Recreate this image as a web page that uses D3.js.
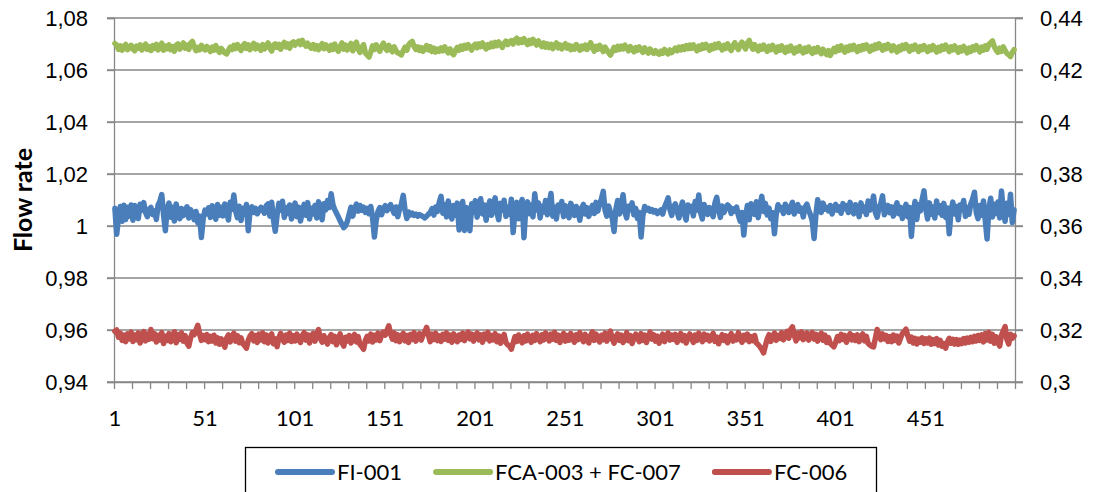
<!DOCTYPE html>
<html>
<head>
  <meta charset="utf-8">
  <title>Flow rate</title>
  <script src="https://d3js.org/d3.v7.min.js"></script>
  <style>
    body { margin: 0; background: #fff; }
    svg { display: block; font-family: Lato, "Open Sans", sans-serif; }
    .grid line { stroke: #878787; stroke-width: 1.3px; }
    .tick text { fill: #000; }
  </style>
</head>
<body>
  <div id="chart"></div>

  <script>
    // series names and colours
    var seriesNames = ["FI-001", "FCA-003 + FC-007", "FC-006"];
    var seriesColors = ["#4a7ebb", "#9bbb59", "#c0504d"];

    // tick labels
    var leftTicks = [0.94, 0.96, 0.98, 1, 1.02, 1.04, 1.06, 1.08];
    var rightTicks = [0.3, 0.32, 0.34, 0.36, 0.38, 0.4, 0.42, 0.44];
    var xLabels = [1, 51, 101, 151, 201, 251, 301, 351, 401, 451];

    // FI-001 (left axis), one value per sample 1..500
    var fi001 = [
      1.0068,0.9968,1.0032,1.0075,1.0018,1.0080,1.0025,1.0072,1.0038,1.0081,
      1.0022,1.0079,1.0048,1.0029,1.0084,1.0061,1.0090,1.0052,1.0036,1.0064,
      1.0071,1.0044,1.0058,1.0025,1.0082,1.0095,1.0121,1.0043,0.9982,1.0066,
      1.0088,1.0034,1.0072,1.0019,1.0085,1.0051,1.0028,1.0067,1.0040,1.0059,
      1.0074,1.0031,1.0063,1.0047,1.0024,1.0056,1.0012,1.0038,0.9956,1.0029,
      1.0061,1.0047,1.0070,1.0033,1.0078,1.0052,1.0026,1.0083,1.0041,1.0072,
      1.0039,1.0085,1.0054,1.0023,1.0091,1.0064,1.0119,1.0058,1.0032,1.0076,
      1.0021,1.0068,1.0045,1.0083,0.9982,1.0061,1.0074,1.0052,1.0068,1.0047,
      1.0059,1.0072,1.0064,1.0049,1.0078,1.0085,1.0038,1.0091,1.0024,0.9980,
      1.0042,1.0087,1.0061,1.0095,1.0033,1.0070,1.0048,1.0081,1.0027,1.0064,
      1.0088,1.0036,1.0072,1.0019,1.0055,1.0083,1.0041,1.0090,1.0027,1.0068,
      1.0046,1.0079,1.0031,1.0093,1.0058,1.0024,1.0086,1.0062,1.0098,1.0071,
      1.0124,1.0082,1.0063,1.0049,1.0035,1.0020,1.0006,0.9994,1.0001,1.0018,
      1.0045,1.0072,1.0038,1.0066,1.0084,1.0057,1.0079,1.0061,1.0073,1.0052,
      1.0068,1.0047,1.0075,1.0032,0.9958,1.0021,1.0056,1.0071,1.0043,1.0066,
      1.0078,1.0059,1.0071,1.0082,1.0064,1.0048,1.0073,1.0036,1.0067,1.0085,
      1.0118,1.0062,1.0029,1.0054,1.0043,1.0049,1.0041,1.0046,1.0038,1.0044,
      1.0040,1.0036,1.0031,1.0038,1.0045,1.0052,1.0067,1.0042,1.0073,1.0056,
      1.0091,1.0114,1.0049,1.0082,1.0035,1.0096,1.0058,1.0027,1.0079,1.0041,
      1.0088,0.9985,1.0062,1.0094,0.9983,1.0071,1.0039,0.9982,1.0086,1.0052,
      1.0097,1.0034,1.0077,1.0105,1.0046,1.0081,1.0022,1.0068,1.0096,1.0041,
      1.0079,1.0108,1.0052,1.0024,1.0087,1.0061,1.0099,1.0037,1.0072,1.0045,
      1.0103,0.9975,1.0058,1.0091,1.0028,1.0074,1.0102,0.9955,1.0066,1.0093,
      1.0047,1.0081,1.0035,1.0124,1.0062,1.0089,1.0031,1.0076,1.0054,1.0098,
      1.0043,1.0085,1.0125,1.0038,1.0072,1.0027,1.0081,1.0059,1.0094,1.0036,
      1.0078,1.0051,1.0032,1.0087,1.0064,1.0041,1.0075,1.0058,1.0022,1.0069,
      1.0083,1.0046,1.0071,1.0037,1.0062,1.0079,1.0048,1.0091,1.0057,1.0084,
      1.0104,1.0133,1.0061,1.0038,1.0077,1.0052,1.0029,0.9979,1.0063,1.0098,
      1.0046,1.0081,1.0120,1.0054,1.0031,1.0076,1.0062,1.0089,1.0043,1.0068,
      1.0029,1.0052,0.9958,1.0041,1.0075,1.0061,1.0068,1.0057,1.0063,1.0054,
      1.0059,1.0048,1.0055,1.0062,1.0046,1.0073,1.0089,1.0108,1.0064,1.0041,
      1.0072,1.0085,1.0056,1.0031,1.0068,1.0092,1.0047,1.0023,1.0081,1.0058,
      1.0076,1.0039,1.0094,1.0061,1.0119,1.0052,1.0027,1.0083,1.0066,1.0045,
      1.0071,1.0058,1.0036,1.0089,1.0110,1.0064,1.0033,1.0077,1.0052,1.0069,
      1.0081,1.0074,1.0048,1.0066,1.0057,1.0073,1.0041,1.0019,1.0052,0.9965,
      1.0038,1.0079,1.0024,1.0086,1.0061,1.0045,1.0093,1.0032,1.0078,1.0114,
      1.0056,1.0087,1.0042,1.0069,1.0028,1.0051,0.9970,1.0045,1.0082,1.0063,
      1.0071,1.0048,1.0084,1.0067,1.0052,1.0075,1.0091,1.0046,1.0063,1.0082,
      1.0057,1.0069,1.0035,1.0072,1.0084,1.0061,1.0043,1.0019,0.9952,1.0041,
      1.0101,1.0076,1.0052,1.0088,1.0065,1.0071,1.0058,1.0079,1.0046,1.0068,
      1.0083,1.0061,1.0074,1.0049,1.0086,1.0067,1.0078,1.0052,1.0091,1.0063,
      1.0047,1.0082,1.0069,1.0036,1.0089,1.0058,1.0073,1.0044,1.0096,1.0061,
      1.0078,1.0115,1.0052,1.0034,1.0069,1.0087,1.0116,1.0043,1.0062,1.0079,
      1.0051,1.0074,1.0038,1.0066,1.0089,1.0047,1.0072,1.0029,1.0058,1.0083,
      1.0036,1.0071,0.9960,1.0047,1.0094,1.0025,1.0082,1.0058,1.0103,1.0135,
      1.0064,1.0027,1.0089,1.0045,1.0073,1.0031,1.0096,1.0052,1.0078,1.0041,
      1.0087,1.0033,1.0069,0.9970,1.0058,1.0092,1.0046,1.0075,1.0024,1.0081,
      1.0063,1.0098,1.0037,1.0071,1.0045,1.0086,1.0104,1.0130,1.0052,1.0028,
      1.0079,1.0041,1.0096,1.0022,0.9950,1.0068,1.0107,1.0035,1.0084,1.0048,
      1.0092,1.0031,1.0135,1.0059,1.0018,1.0087,1.0044,1.0122,1.0013,1.0062
    ];

    // FCA-003 + FC-007 (right axis)
    var fca003fc007 = [
      0.4302,0.4296,0.4279,0.4293,0.4276,0.4290,0.4298,0.4278,0.4288,0.4295,
      0.4280,0.4274,0.4292,0.4284,0.4297,0.4277,0.4286,0.4300,0.4279,0.4290,
      0.4275,0.4294,0.4283,0.4299,0.4277,0.4289,0.4303,0.4276,0.4292,0.4282,
      0.4297,0.4278,0.4290,0.4272,0.4295,0.4300,0.4280,0.4293,0.4304,0.4284,
      0.4296,0.4279,0.4303,0.4310,0.4290,0.4274,0.4287,0.4278,0.4295,0.4283,
      0.4277,0.4291,0.4282,0.4271,0.4288,0.4276,0.4294,0.4279,0.4268,0.4283,
      0.4274,0.4266,0.4262,0.4275,0.4288,0.4279,0.4295,0.4282,0.4298,0.4286,
      0.4275,0.4294,0.4301,0.4283,0.4297,0.4278,0.4290,0.4302,0.4281,0.4296,
      0.4285,0.4276,0.4298,0.4281,0.4293,0.4304,0.4284,0.4273,0.4296,0.4300,
      0.4287,0.4299,0.4280,0.4297,0.4306,0.4289,0.4300,0.4284,0.4303,0.4308,
      0.4296,0.4306,0.4311,0.4298,0.4314,0.4301,0.4292,0.4303,0.4290,0.4284,
      0.4298,0.4281,0.4294,0.4278,0.4292,0.4301,0.4282,0.4297,0.4286,0.4276,
      0.4295,0.4279,0.4300,0.4283,0.4272,0.4290,0.4304,0.4280,0.4296,0.4277,
      0.4289,0.4302,0.4274,0.4294,0.4307,0.4280,0.4268,0.4286,0.4298,0.4266,
      0.4258,0.4250,0.4270,0.4293,0.4279,0.4297,0.4283,0.4272,0.4291,0.4303,
      0.4285,0.4276,0.4295,0.4280,0.4270,0.4289,0.4274,0.4266,0.4263,0.4258,
      0.4274,0.4288,0.4276,0.4296,0.4305,0.4310,0.4291,0.4279,0.4289,0.4275,
      0.4286,0.4272,0.4283,0.4294,0.4277,0.4290,0.4271,0.4284,0.4269,0.4280,
      0.4272,0.4285,0.4274,0.4289,0.4276,0.4266,0.4281,0.4265,0.4259,0.4275,
      0.4287,0.4276,0.4292,0.4280,0.4295,0.4284,0.4298,0.4286,0.4277,0.4293,
      0.4299,0.4285,0.4301,0.4290,0.4304,0.4292,0.4281,0.4298,0.4288,0.4303,
      0.4291,0.4306,0.4294,0.4308,0.4297,0.4287,0.4303,0.4311,0.4298,0.4307,
      0.4313,0.4300,0.4316,0.4322,0.4304,0.4317,0.4306,0.4321,0.4309,0.4298,
      0.4314,0.4302,0.4318,0.4307,0.4296,0.4312,0.4300,0.4290,0.4304,0.4288,
      0.4300,0.4286,0.4299,0.4282,0.4294,0.4304,0.4285,0.4297,0.4281,0.4293,
      0.4301,0.4284,0.4295,0.4278,0.4291,0.4280,0.4298,0.4289,0.4276,0.4292,
      0.4282,0.4296,0.4279,0.4290,0.4305,0.4285,0.4273,0.4291,0.4280,0.4295,
      0.4284,0.4271,0.4288,0.4277,0.4266,0.4257,0.4272,0.4287,0.4276,0.4291,
      0.4279,0.4292,0.4281,0.4296,0.4285,0.4274,0.4290,0.4280,0.4270,0.4286,
      0.4276,0.4289,0.4278,0.4268,0.4285,0.4274,0.4265,0.4281,0.4271,0.4264,
      0.4274,0.4265,0.4261,0.4273,0.4264,0.4279,0.4268,0.4262,0.4277,0.4267,
      0.4275,0.4284,0.4274,0.4288,0.4277,0.4290,0.4279,0.4294,0.4282,0.4296,
      0.4283,0.4297,0.4285,0.4274,0.4292,0.4280,0.4297,0.4284,0.4299,0.4287,
      0.4276,0.4294,0.4282,0.4299,0.4286,0.4302,0.4289,0.4277,0.4295,0.4283,
      0.4301,0.4286,0.4275,0.4293,0.4305,0.4288,0.4279,0.4297,0.4307,0.4292,
      0.4281,0.4303,0.4314,0.4295,0.4280,0.4298,0.4285,0.4274,0.4292,0.4280,
      0.4296,0.4283,0.4272,0.4291,0.4278,0.4295,0.4282,0.4270,0.4289,0.4276,
      0.4293,0.4279,0.4268,0.4287,0.4274,0.4292,0.4278,0.4266,0.4284,0.4273,
      0.4290,0.4276,0.4266,0.4284,0.4272,0.4288,0.4275,0.4264,0.4282,0.4270,
      0.4286,0.4273,0.4263,0.4280,0.4268,0.4259,0.4275,0.4256,0.4269,0.4283,
      0.4271,0.4289,0.4276,0.4293,0.4280,0.4269,0.4288,0.4275,0.4292,0.4279,
      0.4295,0.4282,0.4271,0.4290,0.4277,0.4294,0.4281,0.4297,0.4285,0.4273,
      0.4291,0.4279,0.4297,0.4284,0.4301,0.4288,0.4276,0.4294,0.4282,0.4299,
      0.4287,0.4275,0.4293,0.4281,0.4270,0.4289,0.4277,0.4295,0.4283,0.4298,
      0.4285,0.4273,0.4291,0.4279,0.4296,0.4284,0.4272,0.4290,0.4278,0.4294,
      0.4282,0.4271,0.4289,0.4277,0.4294,0.4282,0.4269,0.4287,0.4275,0.4292,
      0.4280,0.4296,0.4284,0.4271,0.4289,0.4277,0.4293,0.4281,0.4268,0.4286,
      0.4274,0.4291,0.4279,0.4266,0.4284,0.4272,0.4289,0.4277,0.4294,0.4282,
      0.4270,0.4288,0.4276,0.4293,0.4280,0.4298,0.4305,0.4312,0.4290,0.4277,
      0.4268,0.4284,0.4272,0.4289,0.4275,0.4264,0.4259,0.4252,0.4267,0.4278
    ];

    // FC-006 (right axis)
    var fc006 = [
      0.3195,0.3200,0.3172,0.3188,0.3160,0.3180,0.3155,0.3185,0.3166,0.3192,
      0.3156,0.3181,0.3163,0.3189,0.3150,0.3177,0.3194,0.3158,0.3184,0.3165,
      0.3202,0.3166,0.3186,0.3154,0.3180,0.3162,0.3190,0.3148,0.3176,0.3160,
      0.3186,0.3155,0.3179,0.3193,0.3151,0.3183,0.3164,0.3189,0.3157,0.3178,
      0.3150,0.3138,0.3170,0.3190,0.3182,0.3200,0.3218,0.3185,0.3160,0.3179,
      0.3163,0.3182,0.3155,0.3176,0.3158,0.3180,0.3150,0.3170,0.3145,0.3166,
      0.3150,0.3134,0.3169,0.3181,0.3154,0.3175,0.3188,0.3157,0.3178,0.3151,
      0.3170,0.3147,0.3140,0.3130,0.3160,0.3177,0.3186,0.3158,0.3179,0.3152,
      0.3184,0.3162,0.3189,0.3155,0.3181,0.3150,0.3173,0.3185,0.3147,0.3166,
      0.3136,0.3170,0.3187,0.3164,0.3153,0.3181,0.3160,0.3188,0.3156,0.3178,
      0.3158,0.3184,0.3166,0.3152,0.3179,0.3190,0.3161,0.3181,0.3150,0.3175,
      0.3187,0.3157,0.3182,0.3202,0.3168,0.3153,0.3178,0.3160,0.3146,0.3171,
      0.3182,0.3155,0.3176,0.3143,0.3166,0.3185,0.3152,0.3138,0.3172,0.3158,
      0.3179,0.3150,0.3167,0.3183,0.3154,0.3175,0.3145,0.3136,0.3126,0.3160,
      0.3176,0.3158,0.3184,0.3154,0.3180,0.3162,0.3188,0.3159,0.3181,0.3192,
      0.3180,0.3198,0.3216,0.3184,0.3165,0.3189,0.3159,0.3181,0.3155,0.3177,
      0.3187,0.3158,0.3179,0.3152,0.3183,0.3164,0.3190,0.3157,0.3175,0.3186,
      0.3161,0.3181,0.3194,0.3210,0.3179,0.3155,0.3184,0.3164,0.3188,0.3159,
      0.3178,0.3156,0.3183,0.3165,0.3189,0.3160,0.3180,0.3153,0.3185,0.3168,
      0.3155,0.3181,0.3164,0.3188,0.3159,0.3178,0.3192,0.3166,0.3184,0.3157,
      0.3177,0.3189,0.3162,0.3181,0.3153,0.3184,0.3167,0.3191,0.3158,0.3179,
      0.3162,0.3186,0.3155,0.3177,0.3149,0.3168,0.3183,0.3152,0.3143,0.3138,
      0.3126,0.3150,0.3174,0.3156,0.3181,0.3162,0.3151,0.3178,0.3158,0.3184,
      0.3166,0.3153,0.3180,0.3160,0.3186,0.3167,0.3155,0.3182,0.3162,0.3189,
      0.3177,0.3158,0.3184,0.3165,0.3191,0.3160,0.3180,0.3152,0.3176,0.3187,
      0.3157,0.3179,0.3161,0.3187,0.3166,0.3153,0.3182,0.3163,0.3190,0.3171,
      0.3155,0.3183,0.3166,0.3150,0.3179,0.3193,0.3160,0.3184,0.3167,0.3154,
      0.3180,0.3163,0.3188,0.3157,0.3177,0.3196,0.3166,0.3149,0.3175,0.3185,
      0.3160,0.3180,0.3152,0.3169,0.3190,0.3159,0.3179,0.3148,0.3166,0.3184,
      0.3172,0.3155,0.3186,0.3160,0.3180,0.3152,0.3176,0.3192,0.3165,0.3182,
      0.3157,0.3177,0.3149,0.3168,0.3184,0.3155,0.3175,0.3189,0.3161,0.3180,
      0.3164,0.3183,0.3153,0.3172,0.3187,0.3159,0.3179,0.3150,0.3170,0.3185,
      0.3168,0.3152,0.3181,0.3160,0.3188,0.3171,0.3155,0.3184,0.3164,0.3179,
      0.3158,0.3176,0.3187,0.3156,0.3173,0.3147,0.3168,0.3182,0.3160,0.3178,
      0.3151,0.3170,0.3186,0.3157,0.3176,0.3162,0.3190,0.3167,0.3153,0.3180,
      0.3163,0.3184,0.3155,0.3175,0.3159,0.3179,0.3150,0.3144,0.3135,0.3125,
      0.3112,0.3140,0.3165,0.3182,0.3156,0.3173,0.3188,0.3160,0.3179,0.3168,
      0.3190,0.3162,0.3180,0.3195,0.3168,0.3202,0.3212,0.3180,0.3158,0.3188,
      0.3170,0.3193,0.3163,0.3180,0.3189,0.3161,0.3177,0.3191,0.3165,0.3183,
      0.3157,0.3176,0.3188,0.3160,0.3180,0.3152,0.3171,0.3148,0.3142,0.3135,
      0.3154,0.3175,0.3159,0.3183,0.3164,0.3179,0.3153,0.3173,0.3186,0.3162,
      0.3178,0.3160,0.3181,0.3155,0.3170,0.3185,0.3158,0.3176,0.3148,0.3142,
      0.3137,0.3135,0.3168,0.3202,0.3182,0.3163,0.3185,0.3166,0.3179,0.3156,
      0.3175,0.3155,0.3181,0.3160,0.3177,0.3150,0.3169,0.3186,0.3194,0.3203,
      0.3178,0.3157,0.3173,0.3150,0.3168,0.3146,0.3165,0.3153,0.3170,0.3148,
      0.3166,0.3150,0.3169,0.3145,0.3163,0.3148,0.3167,0.3142,0.3160,0.3138,
      0.3147,0.3130,0.3154,0.3168,0.3149,0.3164,0.3146,0.3163,0.3145,0.3161,
      0.3148,0.3167,0.3150,0.3169,0.3153,0.3172,0.3155,0.3176,0.3158,0.3179,
      0.3160,0.3181,0.3154,0.3186,0.3162,0.3191,0.3157,0.3183,0.3149,0.3174,
      0.3152,0.3138,0.3180,0.3197,0.3213,0.3164,0.3146,0.3184,0.3168,0.3177
    ];

    var width = 1098, height = 492;
    var plot = {left: 114, right: 1015, top: 18, bottom: 382};
    var gray = "#878787";
    var fontSize = 22;

    var svg = d3.select("#chart")
      .append("svg")
        .attr("width", width)
        .attr("height", height);

    var n = fi001.length;
    var x = d3.scaleLinear().domain([0.5, n + 0.5]).range([plot.left, plot.right]);
    var yLeft = d3.scaleLinear().domain([0.94, 1.08]).range([plot.bottom, plot.top]);
    var yRight = d3.scaleLinear().domain([0.3, 0.44]).range([plot.bottom, plot.top]);

    var fmt = function(v) { return String(+v.toFixed(2)).replace(".", ","); };

    // horizontal gridlines (they also run out as ticks on both sides)
    svg.append("g")
      .attr("class", "grid")
      .selectAll("line")
      .data(leftTicks)
      .enter()
      .append("line")
        .attr("x1", plot.left - 7)
        .attr("x2", plot.right + 8)
        .attr("y1", function(d) { return yLeft(d); })
        .attr("y2", function(d) { return yLeft(d); });

    // left axis
    var leftAxis = svg.append("g")
      .attr("transform", "translate(" + plot.left + ",0)")
      .call(d3.axisLeft(yLeft).tickValues(leftTicks).tickFormat(fmt).tickSize(7).tickPadding(19));
    leftAxis.selectAll("line, path").attr("stroke", gray).attr("stroke-width", 1.3);
    leftAxis.selectAll("text").style("font-size", fontSize + "px").attr("dy", "0.35em");

    // right axis
    var rightAxis = svg.append("g")
      .attr("transform", "translate(" + plot.right + ",0)")
      .call(d3.axisRight(yRight).tickValues(rightTicks).tickFormat(fmt).tickSize(8).tickPadding(17));
    rightAxis.selectAll("line, path").attr("stroke", gray).attr("stroke-width", 1.3);
    rightAxis.selectAll("text").style("font-size", fontSize + "px").attr("dy", "0.35em");

    // bottom axis: a tick every 10 samples, labels every 50
    var xTicks = d3.range(0, n + 1, 10).map(function(k) { return k + 0.5; });
    var bottomAxis = svg.append("g")
      .attr("transform", "translate(0," + plot.bottom + ")")
      .call(d3.axisBottom(x).tickValues(xTicks).tickFormat("").tickSize(7).tickSizeOuter(0));
    bottomAxis.selectAll("line, path").attr("stroke", gray).attr("stroke-width", 1.3);

    svg.append("g")
      .selectAll("text")
      .data(xLabels)
      .enter()
      .append("text")
        .attr("x", function(d) { return x(d); })
        .attr("y", 426)
        .attr("text-anchor", "middle")
        .style("font-size", fontSize + "px")
        .text(function(d) { return d; });

    // y title
    svg.append("text")
      .attr("transform", "translate(32," + ((plot.top + plot.bottom) / 2) + ") rotate(-90)")
      .attr("text-anchor", "middle")
      .style("font-size", "25px")
      .style("font-weight", "bold")
      .text("Flow rate");

    // the three series
    var series = [
      {name: seriesNames[0], values: fi001, y: yLeft, color: seriesColors[0]},
      {name: seriesNames[1], values: fca003fc007, y: yRight, color: seriesColors[1]},
      {name: seriesNames[2], values: fc006, y: yRight, color: seriesColors[2]}
    ];

    series.forEach(function(s) {
      var line = d3.line()
        .x(function(d, i) { return x(i + 1); })
        .y(function(d) { return s.y(d); });
      svg.append("path")
        .datum(s.values)
        .attr("d", line)
        .attr("fill", "none")
        .attr("stroke", s.color)
        .attr("stroke-width", 5.5)
        .attr("stroke-linejoin", "round")
        .attr("stroke-linecap", "round");
    });

    // legend
    svg.append("rect")
      .attr("x", 245.5)
      .attr("y", 447.5)
      .attr("width", 631)
      .attr("height", 60)
      .attr("fill", "#fff")
      .attr("stroke", "#000")
      .attr("stroke-width", 1.3);

    var lx = 278, ly = 472;
    series.forEach(function(s) {
      svg.append("line")
        .attr("x1", lx)
        .attr("x2", lx + 54)
        .attr("y1", ly)
        .attr("y2", ly)
        .attr("stroke", s.color)
        .attr("stroke-width", 6)
        .attr("stroke-linecap", "round");
      var t = svg.append("text")
        .attr("x", lx + 59)
        .attr("y", ly)
        .attr("dy", "0.35em")
        .style("font-size", fontSize + "px")
        .text(s.name);
      lx += 59 + t.node().getComputedTextLength() + 34;
    });
  </script>
</body>
</html>
